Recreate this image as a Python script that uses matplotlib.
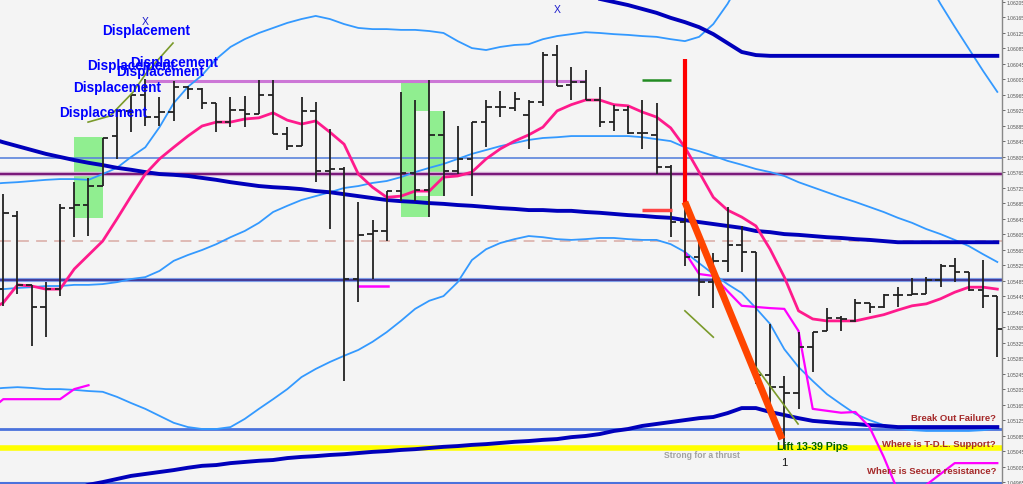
import matplotlib
matplotlib.use("Agg")
import matplotlib.pyplot as plt
from matplotlib import font_manager
from matplotlib.patches import Rectangle
import numpy as np

# ---------------- data (prices) ----------------
bar_open = [1.05464, 1.05653, 1.05475, 1.05418, 1.05464, 1.05673, 1.05681, 1.05730, 1.05859, 1.05924,
            1.05965, 1.05908, 1.05921, 1.05986, 1.05980, 1.05944, 1.05895, 1.05926, 1.05916, 1.05965,
            1.05864, 1.05833, 1.05924, 1.05769, 1.05774, 1.05490, 1.05606, 1.05614, 1.05717, 1.05764,
            1.05720, 1.05862, 1.05769, 1.05800, 1.05895, 1.05934, 1.05931, 1.05913, 1.05947, 1.06068,
            1.05991, 1.05999, 1.05952, 1.05895, 1.05926, 1.05867, 1.05862, 1.05779, 1.05637, 1.05547,
            1.05482, 1.05537, 1.05578, 1.05560, 1.05242, 1.05211, 1.05196, 1.05315, 1.05356, 1.05390,
            1.05382, 1.05428, 1.05418, 1.05449, 1.05449, 1.05451, 1.05488, 1.05524, 1.05508, 1.05462,
            1.05446]
bar_high = [1.05710, 1.05666, 1.05475, 1.05482, 1.05684, 1.05740, 1.05751, 1.05854, 1.05929, 1.05968,
            1.06006, 1.05960, 1.06001, 1.05988, 1.05983, 1.05944, 1.05960, 1.05962, 1.06004, 1.06004,
            1.05882, 1.05960, 1.05947, 1.05877, 1.05779, 1.05689, 1.05642, 1.05717, 1.05973, 1.05952,
            1.06004, 1.05924, 1.05885, 1.05895, 1.05952, 1.05975, 1.05973, 1.05952, 1.06076, 1.06094,
            1.06037, 1.06030, 1.05986, 1.05939, 1.05937, 1.05952, 1.05944, 1.05784, 1.05684, 1.05611,
            1.05557, 1.05676, 1.05627, 1.05560, 1.05374, 1.05240, 1.05353, 1.05353, 1.05415, 1.05395,
            1.05439, 1.05428, 1.05451, 1.05470, 1.05493, 1.05495, 1.05529, 1.05544, 1.05508, 1.05539,
            1.05446]
bar_low = [1.05420, 1.05451, 1.05317, 1.05340, 1.05446, 1.05599, 1.05601, 1.05730, 1.05800, 1.05870,
           1.05885, 1.05885, 1.05898, 1.05955, 1.05929, 1.05870, 1.05882, 1.05882, 1.05916, 1.05864,
           1.05823, 1.05833, 1.05740, 1.05619, 1.05227, 1.05431, 1.05490, 1.05588, 1.05691, 1.05691,
           1.05650, 1.05704, 1.05761, 1.05704, 1.05831, 1.05908, 1.05924, 1.05826, 1.05937, 1.05988,
           1.05952, 1.05952, 1.05882, 1.05872, 1.05864, 1.05826, 1.05761, 1.05599, 1.05524, 1.05446,
           1.05415, 1.05508, 1.05508, 1.05219, 1.05137, 1.05051, 1.05155, 1.05250, 1.05356, 1.05356,
           1.05379, 1.05402, 1.05415, 1.05418, 1.05449, 1.05451, 1.05470, 1.05482, 1.05459, 1.05415,
           1.05289]
bar_close = [1.05660, 1.05475, 1.05418, 1.05464, 1.05673, 1.05681, 1.05730, 1.05854, 1.05924, 1.05965,
             1.05908, 1.05921, 1.05986, 1.05980, 1.05944, 1.05895, 1.05926, 1.05916, 1.05965, 1.05864,
             1.05833, 1.05924, 1.05769, 1.05774, 1.05490, 1.05604, 1.05614, 1.05717, 1.05764, 1.05720,
             1.05862, 1.05769, 1.05800, 1.05895, 1.05934, 1.05934, 1.05955, 1.05947, 1.06068, 1.05988,
             1.05999, 1.05952, 1.05895, 1.05926, 1.05867, 1.05867, 1.05779, 1.05637, 1.05547, 1.05482,
             1.05537, 1.05578, 1.05560, 1.05242, 1.05211, 1.05196, 1.05315, 1.05353, 1.05390, 1.05387,
             1.05428, 1.05418, 1.05449, 1.05449, 1.05451, 1.05488, 1.05524, 1.05508, 1.05462, 1.05446,
             1.05361]

ind_bars = list(range(-1, 71))
ma_fast = [1.05408, 1.05429, 1.05475, 1.05472, 1.05464, 1.05464, 1.05516, 1.05552, 1.05588, 1.05645,
           1.05704, 1.05761, 1.05800, 1.05830, 1.05859, 1.05885, 1.05895, 1.05895, 1.05903, 1.05906,
           1.05919, 1.05900, 1.05890, 1.05898, 1.05869, 1.05838, 1.05761, 1.05727, 1.05701, 1.05704,
           1.05717, 1.05717, 1.05753, 1.05756, 1.05766, 1.05800, 1.05826, 1.05846, 1.05862, 1.05882,
           1.05924, 1.05940, 1.05952, 1.05952, 1.05940, 1.05937, 1.05921, 1.05908, 1.05880, 1.05830,
           1.05766, 1.05701, 1.05668, 1.05650, 1.05627, 1.05567, 1.05495, 1.05408, 1.05387, 1.05382,
           1.05382, 1.05382, 1.05390, 1.05398, 1.05410, 1.05421, 1.05426, 1.05439, 1.05456, 1.05469,
           1.05469, 1.05464]
band_mid = [1.05464, 1.05464, 1.05467, 1.05469, 1.05472, 1.05472, 1.05475, 1.05475, 1.05477, 1.05482,
            1.05490, 1.05495, 1.05511, 1.05537, 1.05552, 1.05565, 1.05580, 1.05598, 1.05614, 1.05635,
            1.05663, 1.05679, 1.05694, 1.05704, 1.05714, 1.05725, 1.05730, 1.05738, 1.05743, 1.05753,
            1.05766, 1.05777, 1.05787, 1.05800, 1.05813, 1.05823, 1.05833, 1.05841, 1.05849, 1.05854,
            1.05856, 1.05859, 1.05859, 1.05859, 1.05859, 1.05859, 1.05856, 1.05851, 1.05846, 1.05830,
            1.05820, 1.05808, 1.05795, 1.05785, 1.05774, 1.05766, 1.05756, 1.05740, 1.05727, 1.05714,
            1.05701, 1.05689, 1.05676, 1.05663, 1.05648, 1.05635, 1.05619, 1.05606, 1.05591, 1.05575,
            1.05554, 1.05534]
band_low = [1.05206, 1.05209, 1.05211, 1.05209, 1.05206, 1.05206, 1.05204, 1.05201, 1.05199, 1.05186,
            1.05170, 1.05155, 1.05137, 1.05119, 1.05108, 1.05103, 1.05103, 1.05108, 1.05129, 1.05155,
            1.05180, 1.05206, 1.05237, 1.05258, 1.05276, 1.05292, 1.05307, 1.05328, 1.05353, 1.05382,
            1.05413, 1.05434, 1.05446, 1.05482, 1.05539, 1.05567, 1.05583, 1.05593, 1.05601, 1.05598,
            1.05593, 1.05591, 1.05593, 1.05596, 1.05596, 1.05593, 1.05591, 1.05591, 1.05580, 1.05560,
            1.05531, 1.05503, 1.05477, 1.05454, 1.05415, 1.05374, 1.05309, 1.05263, 1.05227, 1.05193,
            1.05167, 1.05142, 1.05126, 1.05113, 1.05106, 1.05100, 1.05098, 1.05098, 1.05098, 1.05098,
            1.05100, 1.05106]
band_up = [1.05735, 1.05738, 1.05740, 1.05743, 1.05746, 1.05748, 1.05748, 1.05746, 1.05761, 1.05777,
           1.05805, 1.05830, 1.05882, 1.05944, 1.05986, 1.06016, 1.06058, 1.06089, 1.06109, 1.06125,
           1.06138, 1.06151, 1.06161, 1.06169, 1.06161, 1.06148, 1.06138, 1.06135, 1.06135, 1.06133,
           1.06133, 1.06130, 1.06125, 1.06104, 1.06086, 1.06081, 1.06089, 1.06094, 1.06096, 1.06109,
           1.06117, 1.06122, 1.06127, 1.06125, 1.06122, 1.06120, 1.06117, 1.06115, 1.06109, 1.06104,
           1.06115, 1.06148, 1.06200, 1.06264, None, None, None, None, None, None,
           None, None, None, None, None, None, 1.06264, 1.06200, 1.06141, 1.06084,
           1.06027, 1.05973]
ma_slow = [1.05854, 1.05843, 1.05833, 1.05823, 1.05813, 1.05805, 1.05797, 1.05790, 1.05784, 1.05777,
           1.05772, 1.05766, 1.05761, 1.05759, 1.05756, 1.05751, 1.05746, 1.05740, 1.05735, 1.05730,
           1.05727, 1.05725, 1.05722, 1.05717, 1.05714, 1.05709, 1.05704, 1.05699, 1.05694, 1.05691,
           1.05689, 1.05686, 1.05684, 1.05681, 1.05679, 1.05676, 1.05673, 1.05671, 1.05668, 1.05668,
           1.05666, 1.05666, 1.05663, 1.05661, 1.05658, 1.05655, 1.05653, 1.05650, 1.05648, 1.05642,
           1.05637, 1.05632, 1.05627, 1.05622, 1.05614, 1.05611, 1.05606, 1.05604, 1.05601, 1.05598,
           1.05596, 1.05593, 1.05591, 1.05588, 1.05585, 1.05585, 1.05585, 1.05585, 1.05585, 1.05585,
           1.05585, 1.05585]

ma_high_bars = list(range(41, 71))
ma_high = [1.06221, 1.06213, 1.06205, 1.06197, 1.06187, 1.06177, 1.06164, 1.06153, 1.06140, 1.06122,
           1.06099, 1.06076, 1.06068, 1.06066, 1.06066, 1.06066, 1.06066, 1.06066, 1.06066, 1.06066,
           1.06066, 1.06066, 1.06066, 1.06066, 1.06066, 1.06066, 1.06066, 1.06066, 1.06066, 1.06066]

ma_bottom_bars = list(range(5, 71))
ma_bottom = [1.04948, 1.04959, 1.04966, 1.04974, 1.04982, 1.04987, 1.04992, 1.04997, 1.05003, 1.05008,
             1.05010, 1.05015, 1.05018, 1.05021, 1.05023, 1.05028, 1.05031, 1.05033, 1.05036, 1.05038,
             1.05041, 1.05044, 1.05046, 1.05049, 1.05051, 1.05054, 1.05057, 1.05059, 1.05062, 1.05064,
             1.05067, 1.05070, 1.05072, 1.05075, 1.05077, 1.05082, 1.05085, 1.05090, 1.05098, 1.05103,
             1.05111, 1.05116, 1.05121, 1.05126, 1.05131, 1.05134, 1.05144, 1.05157, 1.05157, 1.05147,
             1.05139, 1.05131, 1.05124, 1.05121, 1.05118, 1.05116, 1.05113, 1.05111, 1.05108, 1.05108,
             1.05108, 1.05108, 1.05108, 1.05108, 1.05108, 1.05108]

stop_left_bars = [-1, 0, 1, 2, 3, 4, 5, 6]
stop_left = [1.05150, 1.05180, 1.05180, 1.05180, 1.05180, 1.05180, 1.05206, 1.05216]
stop_mid_bars = [25, 27.1]
stop_mid = [1.05472, 1.05472]
stop_right_bars = list(range(48, 71))
stop_right = [1.05559, 1.05503, 1.05498, 1.05459, 1.05421, 1.05418, 1.05415, 1.05413, 1.05356, 1.05155,
              1.05150, 1.05145, 1.05147, 1.05108, 1.05031, 1.04943, 1.04928, 1.04959, 1.04987, 1.05015,
              1.05015, 1.05015, 1.05015]

# horizontal levels
level_blue = 1.05803
level_purple = 1.05761
level_violet = 1.06001
level_violet_span = [10.0, 41.0]
level_dashed = 1.05588
level_navy = 1.05487
level_low_blue = 1.05103
level_yellow = 1.05054
level_bottom = 1.04964

# drawn objects
red_vline_bar = 48.0
red_vline = [1.06058, 1.05684]
thrust_bars = [48.0, 54.84]
thrust = [1.05689, 1.05077]
red_stub_bars = [45.0, 47.1]
red_stub = 1.05668
green_stub_bars = [45.0, 47.0]
green_stub = 1.06004
olive1_bars = [5.97, 7.52, 9.13, 10.12, 11.95]
olive1 = [1.05895, 1.05911, 1.05972, 1.06024, 1.06099]
olive2_bars = [48.0, 50.0]
olive2 = [1.05408, 1.05340]
olive3_bars = [53.0, 55.97]
olive3 = [1.05263, 1.05116]
rect_bars = [(4.99, 7.02), (28.0, 30.0), (29.06, 31.04)]
rect_prices = [(1.05648, 1.05856), (1.05650, 1.06004), (1.05704, 1.05924)]

disp_pos_bars = [6.95, 8.92, 5.89, 7.94, 4.91, 3.92]
disp_pos = [1.06132, 1.06051, 1.06043, 1.06027, 1.05985, 1.05921]
x_marks_bars = [9.98, 39.0]
x_marks = [1.06156, 1.06187]

tick_values = [round(1.04965 + 0.0004 * k, 5) for k in range(32)]

# ---------------- styling ----------------
BG = '#f4f4f4'
names = {f.name for f in font_manager.fontManager.ttflist}
NARROW = 'Liberation Sans Narrow' if 'Liberation Sans Narrow' in names else 'Liberation Sans'
NSTRETCH = 'normal' if NARROW == 'Liberation Sans Narrow' else 'condensed'
SCALE = 1.0 if NARROW == 'Liberation Sans Narrow' else 0.82

fig = plt.figure(figsize=(10.23, 4.85), dpi=100, facecolor=BG)
ax = fig.add_axes([0, 0, 1002 / 1023, 1])
ax.set_facecolor(BG)
ax.set_xlim(-0.232, 70.33)
ax.set_ylim(1.049611, 1.062127)

# rectangles (XOR look)
for (x0, x1), (y0, y1) in zip(rect_bars, rect_prices):
    ax.add_patch(Rectangle((x0, y0), x1 - x0, y1 - y0, facecolor='#90ee90', edgecolor='none', zorder=1))
ox0, ox1 = rect_bars[2][0], rect_bars[1][1]
oy0, oy1 = rect_prices[2][0], rect_prices[2][1]
ax.add_patch(Rectangle((ox0, oy0), ox1 - ox0, oy1 - oy0, facecolor=BG, edgecolor='none', zorder=1.1))

# horizontal levels
ax.axhline(level_blue, color='#5b84dc', lw=1.2, zorder=2)
ax.axhline(level_purple, color='#d9b8d9', lw=3.2, zorder=2)
ax.axhline(level_purple, color='#7a1a7a', lw=1.6, zorder=2.1)
ax.hlines(level_violet, level_violet_span[0], level_violet_span[1], color='#cc77d6', lw=2.2, zorder=2)
ax.axhline(level_dashed, color='#ddb5b0', lw=1.3, dashes=(6, 4), zorder=2)
ax.axhline(level_navy, color='#7f9fe8', lw=3.0, zorder=2)
ax.axhline(level_navy, color='#3b2a8a', lw=1.2, zorder=2.1)
ax.axhline(level_low_blue, color='#4a72dc', lw=2.0, zorder=2)
ax.axhline(level_yellow, color='#ffff00', lw=4.0, zorder=2)
ax.axhline(level_bottom, color='#4a72dc', lw=1.5, zorder=2)

def arr(v):
    return np.array([np.nan if a is None else a for a in v], dtype=float)

# indicators
ax.plot(ind_bars, arr(band_up), color='#3399ff', lw=1.3, zorder=3)
ax.plot(ind_bars, arr(band_mid), color='#3399ff', lw=1.3, zorder=3)
ax.plot(ind_bars, arr(band_low), color='#3399ff', lw=1.3, zorder=3)
ax.plot(ind_bars, arr(ma_slow), color='#0000bb', lw=2.8, zorder=3)
ax.plot(ma_high_bars, arr(ma_high), color='#0000bb', lw=2.8, zorder=3)
ax.plot(ma_bottom_bars, arr(ma_bottom), color='#0000bb', lw=2.8, zorder=3)
ax.plot(ind_bars, arr(ma_fast), color='#ff1a8c', lw=2.0, zorder=3.2)
ax.plot(stop_left_bars, stop_left, color='#ff00ff', lw=1.6, zorder=3.1)
ax.plot(stop_mid_bars, stop_mid, color='#ff00ff', lw=1.8, zorder=3.1)
ax.plot(stop_right_bars, stop_right, color='#ff00ff', lw=1.6, zorder=3.1)

# OHLC bars
bx = np.arange(len(bar_open))
tw = 0.38
ax.vlines(bx, bar_low, bar_high, color='#222222', lw=1.3, zorder=4)
ax.hlines(bar_open, bx - tw, bx, color='#222222', lw=1.3, zorder=4)
ax.hlines(bar_close, bx, bx + tw, color='#222222', lw=1.3, zorder=4)

# drawn objects
ax.plot(olive1_bars, olive1, color='#7a9a2a', lw=1.2, zorder=5)
ax.plot(olive2_bars, olive2, color='#7a9a2a', lw=1.2, zorder=5)
ax.plot(olive3_bars, olive3, color='#7a9a2a', lw=1.2, zorder=5)
ax.vlines(red_vline_bar, red_vline[1], red_vline[0], color='#ff0000', lw=3, zorder=5)
ax.plot(thrust_bars, thrust, color='#ff4500', lw=5, solid_capstyle='butt', zorder=5)
ax.hlines(red_stub, red_stub_bars[0], red_stub_bars[1], color='#ff4444', lw=2.5, zorder=5)
ax.hlines(green_stub, green_stub_bars[0], green_stub_bars[1], color='#228b22', lw=1.8, zorder=5)

# texts
for xb, yp in zip(disp_pos_bars, disp_pos):
    ax.text(xb, yp, 'Displacement', family=NARROW, fontstretch=NSTRETCH, fontweight='bold',
            fontsize=11.9 * SCALE, color='#0000ff', ha='left', va='center', zorder=6)
for xb, yp in zip(x_marks_bars, x_marks):
    ax.text(xb, yp, 'X', family='Liberation Sans', fontsize=7.5, color='#1a1acc',
            ha='center', va='center', zorder=6)
ax.text(54.49, 1.05059, 'Lift 13-39 Pips', family=NARROW, fontstretch=NSTRETCH, fontweight='bold',
        fontsize=9.2 * SCALE, color='#006400', ha='left', va='center', zorder=6)
ax.text(55.0, 1.05017, '1', family='Liberation Sans', fontsize=8, color='#111111',
        ha='center', va='center', zorder=6)
ax.text(46.53, 1.05036, 'Strong for a thrust', family=NARROW, fontstretch=NSTRETCH, fontweight='bold',
        fontsize=7.6 * SCALE, color='#a0a0a0', ha='left', va='center', zorder=6)
for txt, yp in [('Break Out Failure?', 1.05134), ('Where is T-D.L. Support?', 1.05065),
                ('Where is Secure resistance?', 1.04995)]:
    ax.text(69.91, yp, txt, family=NARROW, fontstretch=NSTRETCH, fontweight='bold',
            fontsize=8.3 * SCALE, color='#a52a2a', ha='right', va='center', zorder=6)

# axes styling
ax.set_xticks([])
ax.yaxis.tick_right()
ax.set_yticks(tick_values)
ax.set_yticklabels(['%.5f' % v for v in tick_values])
ax.tick_params(axis='y', labelsize=3.6, length=2, width=0.6, pad=1.2, colors='#555555')
for lab in ax.get_yticklabels():
    lab.set_family(NARROW)
for s in ['top', 'left', 'bottom']:
    ax.spines[s].set_visible(False)
ax.spines['right'].set_color('#888888')
ax.spines['right'].set_linewidth(1.0)

fig.savefig('out.png', dpi=100, facecolor=BG)
